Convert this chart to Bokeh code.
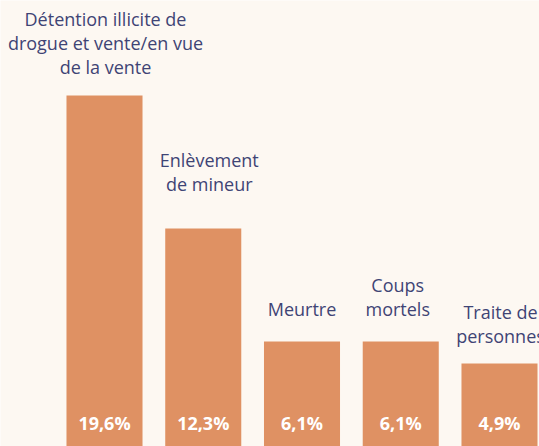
from bokeh.plotting import figure
from bokeh.models import ColumnDataSource, Range1d
from bokeh.core.properties import value
from bokeh.embed import file_html
from bokeh.resources import INLINE

# ---- data ----
categories = [
    "Détention illicite de\ndrogue et vente/en vue\nde la vente",
    "Enlèvement\nde mineur",
    "Meurtre",
    "Coups\nmortels",
    "Traite de\npersonnes",
]
shares = [19.6, 12.3, 6.1, 6.1, 4.9]
share_labels = ["19,6%", "12,3%", "6,1%", "6,1%", "4,9%"]

# ---- style / layout ----
BG = "#FDF8F2"
BAR = "#DF9163"
TXT = "#3F4475"
FONT = "Open Sans"
label_gap_px = [-16, -33, -21, -21, -15]   # screen offset of each label above its bar
label_dx_px = [1, 6, 0, -3, 1]

xs = list(range(len(categories)))
src = ColumnDataSource(dict(
    x=xs, top=shares, cat=categories, lab=share_labels,
    zero=[0] * len(xs), gap=label_gap_px, dx=label_dx_px,
))

p = figure(width=539, height=446, output_backend="svg", toolbar_location=None,
           x_range=Range1d(-1.0532, 4.4051), y_range=Range1d(0.3456, 24.81),
           min_border=0)
p.background_fill_color = BG
p.border_fill_color = BG
p.outline_line_color = None
p.xaxis.visible = False
p.yaxis.visible = False
p.xgrid.visible = False
p.ygrid.visible = False

p.vbar(x="x", top="top", bottom=0, width=0.77, source=src,
       fill_color=BAR, line_color=None)

p.text(x="x", y="zero", text="lab", source=src, text_align="center",
       text_baseline="middle", y_offset=-30, text_color="white",
       text_font=value(FONT), text_font_style="bold", text_font_size="18px")

p.text(x="x", y="top", text="cat", source=src, text_align="center",
       text_baseline="bottom", y_offset="gap", x_offset="dx", text_color=TXT,
       text_font=value(FONT), text_font_size="18px", text_line_height=1.0)

open("out.html", "w").write(file_html(p, INLINE))
